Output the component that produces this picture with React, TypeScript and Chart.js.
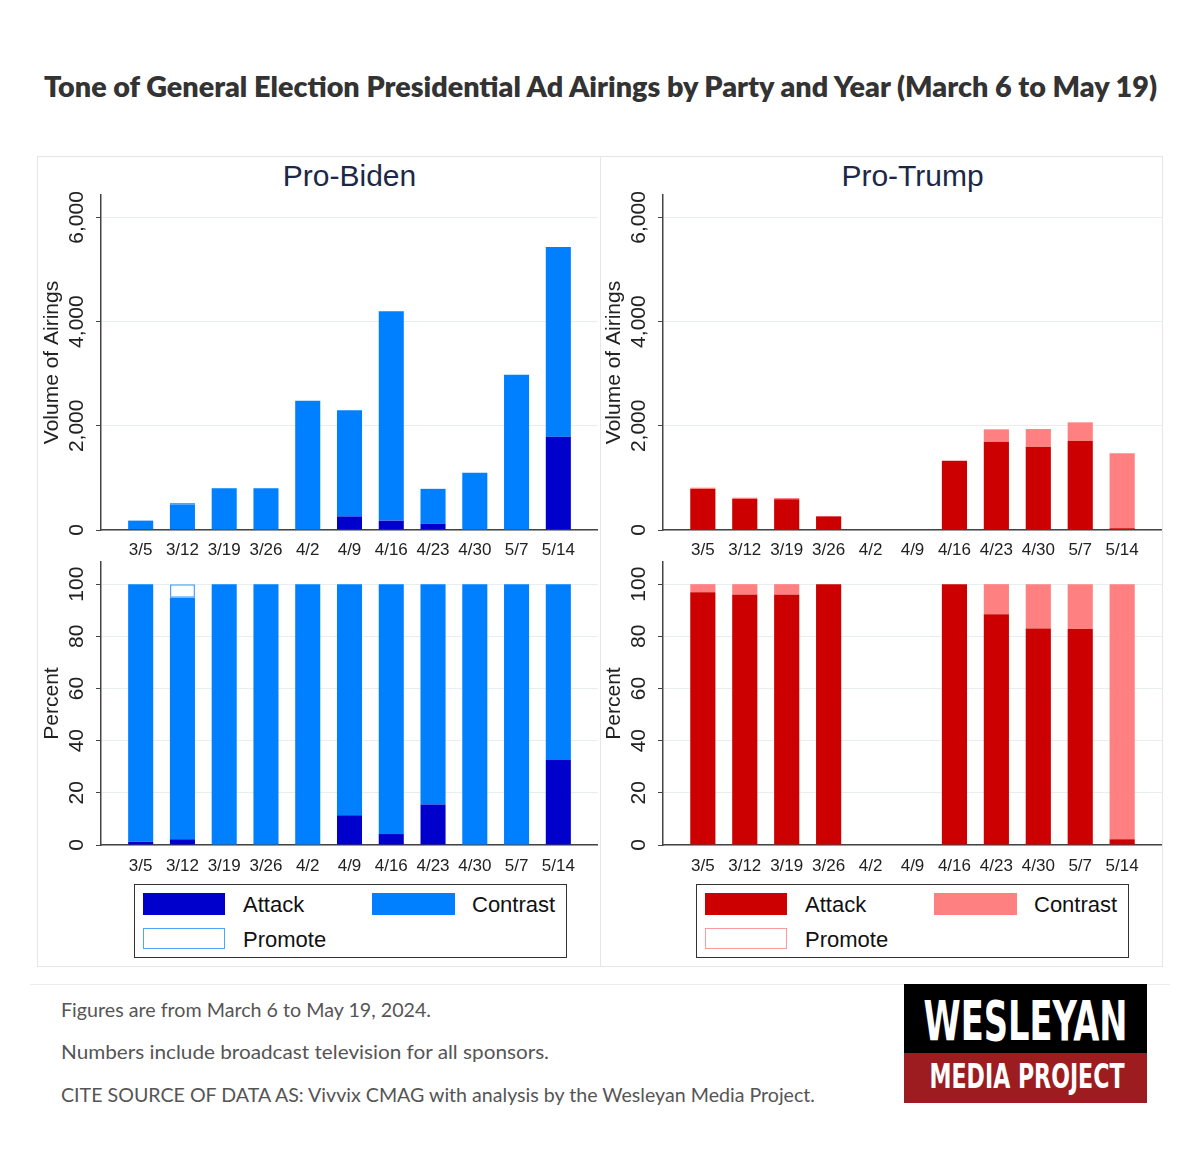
import React, { useEffect, useRef } from 'react';
import { Chart, registerables } from 'chart.js';

Chart.register(...registerables);

// ---------------- data ----------------
const categories = ['3/5', '3/12', '3/19', '3/26', '4/2', '4/9', '4/16', '4/23', '4/30', '5/7', '5/14'];

// Volume of airings
const bidenAttackVol = [3, 11, 0, 0, 0, 260, 180, 120, 0, 0, 1790];
const bidenContrastVol = [177, 482, 800, 800, 2480, 2040, 4020, 670, 1100, 2980, 3640];
const bidenPromoteVol = [0, 27, 0, 0, 0, 0, 0, 0, 0, 0, 0];

const trumpAttackVol = [788, 595, 590, 262, 0, 0, 1330, 1695, 1600, 1708, 34];
const trumpContrastVol = [24, 25, 24, 0, 0, 0, 0, 237, 338, 358, 1437];
const trumpPromoteVol = [0, 0, 0, 0, 0, 0, 0, 0, 0, 0, 0];

// Percent of airings
const bidenAttackPct = [1.3, 2.2, 0, 0, 0, 11.4, 4.2, 15.5, 0, 0, 32.6];
const bidenContrastPct = [98.7, 92.6, 100, 100, 100, 88.6, 95.8, 84.5, 100, 100, 67.4];
const bidenPromotePct = [0, 5.2, 0, 0, 0, 0, 0, 0, 0, 0, 0];

const trumpAttackPct = [96.9, 95.9, 95.9, 100, 0, 0, 100, 88.5, 83.0, 82.8, 2.2];
const trumpContrastPct = [3.1, 4.1, 4.1, 0, 0, 0, 0, 11.5, 17.0, 17.2, 97.8];
const trumpPromotePct = [0, 0, 0, 0, 0, 0, 0, 0, 0, 0, 0];

const volumeTicks = [0, 2000, 4000, 6000];
const volumeAxisMax = 6430;
const percentTicks = [0, 20, 40, 60, 80, 100];
const percentAxisMax = 108.5;

const legendLabels = ['Attack', 'Contrast', 'Promote'];

const BLUE = { attack: '#0000cc', contrast: '#0080ff', promote: '#ffffff', promoteBorder: '#4da3ff' };
const RED = { attack: '#cc0000', contrast: '#ff8080', promote: '#ffffff', promoteBorder: '#ff9a9a' };

const FONT = "'Liberation Sans', Arial, Helvetica, sans-serif";

type Colors = typeof BLUE;

interface PanelProps {
  left: number;
  top: number;
  width: number;
  height: number;
  padTop: number;
  xHeight: number;
  xTickPad: number;
  yWidth: number;
  yMax: number;
  yTicks: number[];
  yTitle: string;
  yTickPad: number;
  attack: number[];
  contrast: number[];
  promote: number[];
  colors: Colors;
}

function BarPanel(p: PanelProps) {
  const ref = useRef<HTMLCanvasElement>(null);
  useEffect(() => {
    if (!ref.current) return;
    const pts = (arr: number[], skipZero = false) =>
      arr.map((v, i) => ({ x: i, y: skipZero && v === 0 ? null : v }));
    const chart = new Chart(ref.current, {
      type: 'bar',
      data: {
        datasets: [
          { label: legendLabels[0], data: pts(p.attack) as any, backgroundColor: p.colors.attack, borderWidth: 0 },
          { label: legendLabels[1], data: pts(p.contrast) as any, backgroundColor: p.colors.contrast, borderWidth: 0 },
          {
            label: legendLabels[2],
            data: pts(p.promote, true) as any,
            backgroundColor: p.colors.promote,
            borderColor: p.colors.promoteBorder,
            borderWidth: 1.5,
            borderSkipped: false,
          },
        ],
      },
      options: {
        animation: false,
        responsive: false,
        maintainAspectRatio: false,
        layout: { padding: { top: p.padTop, left: 0, right: 0, bottom: 0 } },
        plugins: { legend: { display: false }, tooltip: { enabled: false }, title: { display: false } },
        datasets: { bar: { barPercentage: 0.6, categoryPercentage: 1 } },
        scales: {
          x: {
            type: 'linear',
            stacked: true,
            offset: false,
            min: -0.95,
            max: categories.length - 0.05,
            afterBuildTicks: (s: any) => {
              s.ticks = categories.map((_, i) => ({ value: i }));
            },
            afterFit: (s: any) => {
              s.height = p.xHeight;
            },
            grid: { display: false, drawTicks: false, offset: false },
            border: { display: true, color: '#444', width: 1.5 },
            ticks: {
              autoSkip: false,
              maxRotation: 0,
              minRotation: 0,
              padding: p.xTickPad,
              color: '#222',
              font: { family: FONT, size: 17 },
              callback: (v: any) => categories[v as number] ?? '',
            },
          },
          y: {
            type: 'linear',
            stacked: true,
            min: 0,
            max: p.yMax,
            afterBuildTicks: (s: any) => {
              s.ticks = p.yTicks.map((v) => ({ value: v }));
            },
            afterFit: (s: any) => {
              s.width = p.yWidth;
            },
            grid: { color: '#e6eef0', lineWidth: 1, drawTicks: true, tickLength: 5, tickColor: '#444' },
            border: { display: true, color: '#444', width: 1.5 },
            title: { display: true, text: p.yTitle, color: '#222', font: { family: FONT, size: 21 }, padding: 0 },
            ticks: {
              minRotation: 90,
              maxRotation: 90,
              crossAlign: 'center',
              padding: p.yTickPad,
              color: '#222',
              font: { family: FONT, size: 21 },
              callback: (v: any) => Number(v).toLocaleString('en-US'),
            },
          },
        },
      } as any,
    });
    return () => chart.destroy();
  }, []);
  return (
    <canvas
      ref={ref}
      width={p.width}
      height={p.height}
      style={{ position: 'absolute', left: p.left, top: p.top, width: p.width, height: p.height }}
    />
  );
}

function Legend({ left, colors }: { left: number; colors: Colors }) {
  const text: React.CSSProperties = {
    position: 'absolute',
    fontFamily: FONT,
    fontSize: 22,
    color: '#111',
    lineHeight: '26px',
    whiteSpace: 'nowrap',
  };
  return (
    <div
      style={{
        position: 'absolute',
        left,
        top: 884,
        width: 433,
        height: 74,
        boxSizing: 'border-box',
        border: '1.5px solid #333',
        background: '#fff',
      }}
    >
      <div style={{ position: 'absolute', left: 8, top: 8, width: 82, height: 22, background: colors.attack }} />
      <div style={{ ...text, left: 108, top: 7 }}>{legendLabels[0]}</div>
      <div style={{ position: 'absolute', left: 237, top: 8, width: 83, height: 22, background: colors.contrast }} />
      <div style={{ ...text, left: 337, top: 7 }}>{legendLabels[1]}</div>
      <div
        style={{
          position: 'absolute',
          left: 8,
          top: 43,
          width: 82,
          height: 21,
          boxSizing: 'border-box',
          background: colors.promote,
          border: `1.5px solid ${colors.promoteBorder}`,
        }}
      />
      <div style={{ ...text, left: 108, top: 42 }}>{legendLabels[2]}</div>
    </div>
  );
}

const panelTitle: React.CSSProperties = {
  position: 'absolute',
  top: 157,
  height: 38,
  lineHeight: '38px',
  fontFamily: FONT,
  fontSize: 30,
  color: '#1c2847',
  textAlign: 'center',
  whiteSpace: 'nowrap',
};

export default function App() {
  return (
    <div
      style={{
        position: 'absolute',
        left: 0,
        top: 0,
        width: 1200,
        height: 1159,
        background: '#fff',
        overflow: 'hidden',
      }}
    >
      <svg width={1200} height={130} style={{ position: 'absolute', left: 0, top: 0 }}>
        <text
          x={600.5}
          y={97}
          textAnchor="middle"
          textLength={1113}
          lengthAdjust="spacingAndGlyphs"
          style={{ fontFamily: 'Lato, "Open Sans", sans-serif', fontWeight: 800, fontSize: 29, fill: '#333' }}
        >
          Tone of General Election Presidential Ad Airings by Party and Year (March 6 to May 19)
        </text>
      </svg>

      {/* panel frame */}
      <div
        style={{
          position: 'absolute',
          left: 37,
          top: 156,
          width: 1126,
          height: 811,
          boxSizing: 'border-box',
          border: '1px solid #e6e6e6',
        }}
      />
      <div style={{ position: 'absolute', left: 600, top: 156, width: 1, height: 811, background: '#e6e6e6' }} />

      <div style={{ ...panelTitle, left: 101, width: 497 }}>Pro-Biden</div>
      <div style={{ ...panelTitle, left: 663, width: 499 }}>Pro-Trump</div>

      <BarPanel
        left={40}
        top={187}
        width={558}
        height={371}
        padTop={8}
        xHeight={28}
        xTickPad={10}
        yWidth={61}
        yMax={volumeAxisMax}
        yTicks={volumeTicks}
        yTitle="Volume of Airings"
        yTickPad={-7}
        attack={bidenAttackVol}
        contrast={bidenContrastVol}
        promote={bidenPromoteVol}
        colors={BLUE}
      />
      <BarPanel
        left={40}
        top={547}
        width={558}
        height={328}
        padTop={15}
        xHeight={30}
        xTickPad={11}
        yWidth={61}
        yMax={percentAxisMax}
        yTicks={percentTicks}
        yTitle="Percent"
        yTickPad={1.5}
        attack={bidenAttackPct}
        contrast={bidenContrastPct}
        promote={bidenPromotePct}
        colors={BLUE}
      />
      <BarPanel
        left={602}
        top={187}
        width={560}
        height={371}
        padTop={8}
        xHeight={28}
        xTickPad={10}
        yWidth={61}
        yMax={volumeAxisMax}
        yTicks={volumeTicks}
        yTitle="Volume of Airings"
        yTickPad={-7}
        attack={trumpAttackVol}
        contrast={trumpContrastVol}
        promote={trumpPromoteVol}
        colors={RED}
      />
      <BarPanel
        left={602}
        top={547}
        width={560}
        height={328}
        padTop={15}
        xHeight={30}
        xTickPad={11}
        yWidth={61}
        yMax={percentAxisMax}
        yTicks={percentTicks}
        yTitle="Percent"
        yTickPad={1.5}
        attack={trumpAttackPct}
        contrast={trumpContrastPct}
        promote={trumpPromotePct}
        colors={RED}
      />

      <Legend left={134} colors={BLUE} />
      <Legend left={696} colors={RED} />

      {/* footer */}
      <div style={{ position: 'absolute', left: 30, top: 984, width: 1140, height: 1, background: '#ececec' }} />
      <svg width={1200} height={175} style={{ position: 'absolute', left: 0, top: 984 }}>
        <g style={{ fontFamily: 'Lato, "Open Sans", sans-serif', fontSize: 19, fill: '#555' }}>
          <text x={61} y={32.5} textLength={370} lengthAdjust="spacingAndGlyphs">
            Figures are from March 6 to May 19, 2024.
          </text>
          <text x={61} y={75} textLength={488} lengthAdjust="spacingAndGlyphs">
            Numbers include broadcast television for all sponsors.
          </text>
          <text x={61} y={117.5} textLength={754} lengthAdjust="spacingAndGlyphs">
            CITE SOURCE OF DATA AS: Vivvix CMAG with analysis by the Wesleyan Media Project.
          </text>
        </g>
        <rect x={904} y={-2} width={243} height={71} fill="#000" />
        <rect x={904} y={69} width={243} height={50} fill="#9d1c20" />
        <g style={{ fontFamily: '"DejaVu Sans Condensed", "DejaVu Sans", sans-serif', fontWeight: 700, fill: '#fff' }}>
          <text x={1025.5} y={56} textAnchor="middle" textLength={204} lengthAdjust="spacingAndGlyphs" style={{ fontSize: 56 }}>
            WESLEYAN
          </text>
          <text x={1027} y={104} textAnchor="middle" textLength={195} lengthAdjust="spacingAndGlyphs" style={{ fontSize: 33 }}>
            MEDIA PROJECT
          </text>
        </g>
      </svg>
    </div>
  );
}
